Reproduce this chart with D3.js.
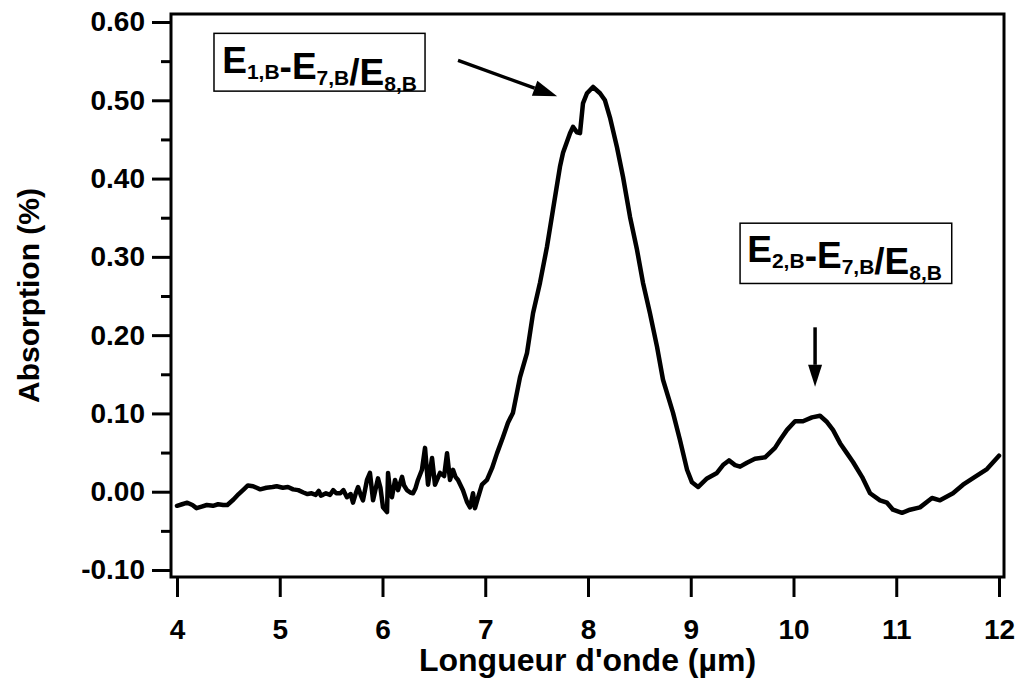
<!DOCTYPE html>
<html>
<head>
<meta charset="utf-8">
<script src="https://cdn.jsdelivr.net/npm/d3@7"></script>
<style>
  html, body { margin: 0; padding: 0; background: #fff; }
  svg { display: block; font-family: "Liberation Sans", Arial, sans-serif; }
</style>
</head>
<body>
<svg id="chart" width="1020" height="682"></svg>
<script>
// ---- data ----
const wavelength = [
  4.00, 4.05, 4.10, 4.15, 4.19, 4.24, 4.29, 4.35, 4.40, 4.45, 4.49, 4.55, 4.60, 4.65, 4.69, 4.74,
  4.81, 4.87, 4.93, 4.97, 5.03, 5.08, 5.13, 5.18, 5.23, 5.27, 5.31, 5.35, 5.38, 5.40, 5.42, 5.45,
  5.49, 5.52, 5.55, 5.59, 5.62, 5.654, 5.69, 5.713, 5.74, 5.762, 5.79, 5.810, 5.849, 5.878, 5.908,
  5.93, 5.956, 5.98, 6.005, 6.044, 6.054, 6.07, 6.092, 6.122, 6.151, 6.190, 6.21, 6.238, 6.27,
  6.297, 6.32, 6.345, 6.384, 6.414, 6.443, 6.482, 6.511, 6.54, 6.560, 6.60, 6.628, 6.657, 6.686,
  6.71, 6.735, 6.783, 6.822, 6.852, 6.881, 6.900, 6.929, 6.968, 7.017, 7.066, 7.114, 7.173, 7.221,
  7.270, 7.338, 7.406, 7.465, 7.533, 7.601, 7.659, 7.727, 7.757, 7.825, 7.854, 7.893, 7.922, 7.951,
  7.990, 8.049, 8.117, 8.165, 8.214, 8.282, 8.341, 8.409, 8.477, 8.535, 8.603, 8.672, 8.730, 8.827,
  8.895, 8.964, 9.012, 9.071, 9.158, 9.255, 9.314, 9.372, 9.431, 9.480, 9.547, 9.625, 9.723, 9.820,
  9.869, 9.937, 10.015, 10.092, 10.180, 10.258, 10.326, 10.384, 10.453, 10.521, 10.579, 10.667,
  10.745, 10.842, 10.910, 10.968, 11.056, 11.134, 11.231, 11.348, 11.426, 11.552, 11.650, 11.766,
  11.883, 12.00
];
const absorption = [
  -0.018, -0.016, -0.014, -0.017, -0.021, -0.019, -0.017, -0.018, -0.016, -0.017, -0.017, -0.010,
  -0.003, 0.003, 0.008, 0.007, 0.003, 0.005, 0.006, 0.007, 0.005, 0.006, 0.003, 0.002, -0.001,
  -0.003, -0.002, -0.004, 0.001, -0.005, -0.004, -0.002, -0.004, 0.002, -0.002, -0.002, 0.002,
  -0.007, -0.003, -0.014, -0.002, 0.006, -0.005, -0.011, 0.015, 0.024, -0.011, 0.002, 0.017, 0.005,
  -0.020, -0.026, 0.024, 0.005, -0.007, 0.015, 0.002, 0.019, 0.008, 0.002, -0.001, -0.002, 0.004,
  0.015, 0.028, 0.056, 0.009, 0.043, 0.009, 0.018, 0.024, 0.020, 0.049, 0.015, 0.028, 0.019, 0.015,
  0.002, -0.013, -0.020, -0.002, -0.021, -0.008, 0.009, 0.015, 0.030, 0.049, 0.070, 0.088, 0.101,
  0.146, 0.177, 0.228, 0.267, 0.313, 0.360, 0.415, 0.433, 0.458, 0.466, 0.459, 0.458, 0.496, 0.509,
  0.517, 0.509, 0.500, 0.478, 0.440, 0.402, 0.351, 0.309, 0.267, 0.228, 0.185, 0.143, 0.101, 0.066,
  0.028, 0.012, 0.006, 0.017, 0.024, 0.034, 0.040, 0.034, 0.032, 0.037, 0.042, 0.044, 0.056, 0.066,
  0.079, 0.090, 0.090, 0.095, 0.097, 0.089, 0.079, 0.062, 0.049, 0.038, 0.019, -0.002, -0.011,
  -0.014, -0.023, -0.027, -0.023, -0.020, -0.008, -0.011, -0.002, 0.009, 0.019, 0.029, 0.046
];
const xTicks = [4, 5, 6, 7, 8, 9, 10, 11, 12];
const yTicks = [-0.1, 0.0, 0.1, 0.2, 0.3, 0.4, 0.5, 0.6];
const yMinorTicks = [-0.05, 0.05, 0.15, 0.25, 0.35, 0.45, 0.55];
const xTitle = "Longueur d'onde (µm)";
const yTitle = "Absorption (%)";
// annotation labels: [main, sub] pairs
const label1 = [["E", "1,B"], ["-E", "7,B"], ["/E", "8,B"]];
const label2 = [["E", "2,B"], ["-E", "7,B"], ["/E", "8,B"]];

// ---- scales ----
const svg = d3.select("#chart");
const x = d3.scaleLinear().domain([4, 12]).range([177, 999]);
const y = d3.scaleLinear().domain([-0.1, 0.6]).range([570, 22]);

const frameL = 171, frameR = 1004, frameT = 14, frameB = 577;
const FONT = "Liberation Sans, Arial, sans-serif";

// frame
svg.append("rect")
  .attr("x", frameL).attr("y", frameT)
  .attr("width", frameR - frameL).attr("height", frameB - frameT)
  .attr("fill", "none").attr("stroke", "#000").attr("stroke-width", 3);

// y axis (major)
const yAxis = svg.append("g").attr("transform", `translate(${frameL},0)`)
  .call(d3.axisLeft(y).tickValues(yTicks).tickSize(19).tickPadding(7)
    .tickFormat(d => d.toFixed(2)));
yAxis.select(".domain").remove();
yAxis.selectAll(".tick line").attr("stroke", "#000").attr("stroke-width", 3);
yAxis.selectAll(".tick text").attr("font-size", 28).attr("font-weight", "bold")
  .attr("fill", "#000").attr("font-family", FONT);

// y axis (minor)
const yMinor = svg.append("g").attr("transform", `translate(${frameL},0)`)
  .call(d3.axisLeft(y).tickValues(yMinorTicks).tickSize(10).tickFormat(""));
yMinor.select(".domain").remove();
yMinor.selectAll(".tick line").attr("stroke", "#000").attr("stroke-width", 3);

// x axis
const xAxis = svg.append("g").attr("transform", `translate(0,${frameB})`)
  .call(d3.axisBottom(x).tickValues(xTicks).tickSize(20).tickPadding(22)
    .tickFormat(d3.format("d")));
xAxis.select(".domain").remove();
xAxis.selectAll(".tick line").attr("stroke", "#000").attr("stroke-width", 3);
xAxis.selectAll(".tick text").attr("font-size", 28).attr("font-weight", "bold")
  .attr("fill", "#000").attr("font-family", FONT);

// axis titles
svg.append("text").attr("x", (frameL + frameR) / 2).attr("y", 671)
  .attr("text-anchor", "middle").attr("font-size", 32).attr("font-weight", "bold")
  .text(xTitle);
svg.append("text")
  .attr("transform", `translate(39,${(frameT + frameB) / 2}) rotate(-90)`)
  .attr("text-anchor", "middle").attr("font-size", 30).attr("font-weight", "bold")
  .text(yTitle);

// curve
const pts = wavelength.map((w, i) => [w, absorption[i]]);
svg.append("path").datum(pts)
  .attr("fill", "none").attr("stroke", "#000").attr("stroke-width", 4.5)
  .attr("stroke-linejoin", "round").attr("stroke-linecap", "round")
  .attr("d", d3.line().x(d => x(d[0])).y(d => y(d[1])));

// annotations
function labelBox(parts, bx, by, bw, bh, tx, ty) {
  svg.append("rect").attr("x", bx).attr("y", by).attr("width", bw).attr("height", bh)
    .attr("fill", "#fff").attr("stroke", "#000").attr("stroke-width", 1.5);
  const t = svg.append("text").attr("x", tx).attr("y", ty)
    .attr("font-weight", "bold").attr("font-size", 37);
  parts.forEach(([main, sub]) => {
    t.append("tspan").attr("font-size", 37).attr("dy", 0).text(main);
    t.append("tspan").attr("font-size", 21).attr("dy", 6).text(sub);
    t.append("tspan").attr("font-size", 37).attr("dy", -6).text("");
  });
}
function arrow(x1, y1, x2, y2, headLen, headHalf) {
  const ang = Math.atan2(y2 - y1, x2 - x1);
  const bx = x2 - headLen * Math.cos(ang), by = y2 - headLen * Math.sin(ang);
  svg.append("line").attr("x1", x1).attr("y1", y1).attr("x2", bx).attr("y2", by)
    .attr("stroke", "#000").attr("stroke-width", 3.5);
  const px = -Math.sin(ang), py = Math.cos(ang);
  svg.append("path")
    .attr("d", `M${x2},${y2}L${bx + px * headHalf},${by + py * headHalf}L${bx - px * headHalf},${by - py * headHalf}Z`)
    .attr("fill", "#000");
}

labelBox(label1, x(4.36), y(0.5855), x(6.414) - x(4.36), y(0.5117) - y(0.5855), x(4.44), y(0.535));
arrow(x(6.735), y(0.551), x(7.70), y(0.505), 24, 8);
labelBox(label2, x(9.48), y(0.343), x(11.54) - x(9.48), y(0.266) - y(0.343), x(9.55), y(0.293));
arrow(x(10.21), y(0.210), x(10.21), y(0.134), 22, 7);
</script>
</body>
</html>
